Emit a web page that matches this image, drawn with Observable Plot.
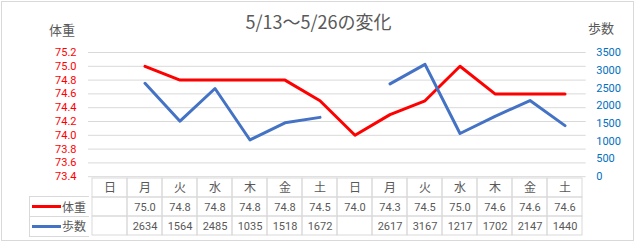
<!DOCTYPE html>
<html><head><meta charset="utf-8">
<script src="https://cdn.jsdelivr.net/npm/d3@7"></script>
<script src="https://cdn.jsdelivr.net/npm/@observablehq/plot@0.6"></script>
<style>
body{margin:0;background:#fff;font-family:"Noto Sans CJK JP","Noto Sans",sans-serif;}
#wrap{position:relative;width:637px;height:245px;overflow:hidden;background:#fff;}
#frame{position:absolute;left:1px;top:1px;width:633px;height:240px;border:1px solid #d9d9d9;box-sizing:border-box;}
.abs{position:absolute;white-space:nowrap;line-height:1;color:#595959;}
#chart,#table{position:absolute;left:0;}
#chart{top:0;}
#table{top:170px;}
.leg{position:absolute;left:29px;width:60px;height:20px;box-sizing:border-box;border:1px solid #d9d9d9;border-right:none;display:flex;align-items:center;}
.sw{width:29px;height:3px;margin-left:2px;}
.lt{font-size:12px;color:#595959;margin-left:1px;line-height:1;}
</style></head><body>
<div id="wrap"><div id="frame"></div></div>
<script>
const title = "5/13～5/26の変化";
const days = ["日","月","火","水","木","金","土","日","月","火","水","木","金","土"];
const weight = [null,75.0,74.8,74.8,74.8,74.8,74.5,74.0,74.3,74.5,75.0,74.6,74.6,74.6];
const steps = [null,2634,1564,2485,1035,1518,1672,null,2617,3167,1217,1702,2147,1440];
const seriesNames = ["体重","歩数"];
const seriesColors = ["#FF0000","#4472C4"];
const weightTicks = [73.4,73.6,73.8,74.0,74.2,74.4,74.6,74.8,75.0,75.2];
const stepTicks = [0,500,1000,1500,2000,2500,3000,3500];

const W_MIN = 73.4, W_MAX = 75.2, S_MAX = 3500;
const toW = s => W_MIN + s / S_MAX * (W_MAX - W_MIN);
const fromW = w => (w - W_MIN) / (W_MAX - W_MIN) * S_MAX;

const rows = days.map((d, i) => ({i, day: d, w: weight[i], s: steps[i]}));
const font = '"Noto Sans CJK JP","Noto Sans",sans-serif';
const numFont = 'Roboto,"Liberation Sans",sans-serif';
const ML = 88, MR = 51.3;
const xScale = () => ({type: "band", domain: d3.range(days.length), padding: 0, axis: null});

const chart = Plot.plot({
  width: 637, height: 180,
  marginTop: 52, marginBottom: 3.8, marginLeft: ML, marginRight: MR,
  style: {fontFamily: font, background: "transparent", overflow: "visible"},
  x: xScale(),
  y: {domain: [W_MIN, W_MAX]},
  marks: [
    Plot.ruleY(weightTicks, {stroke: "#d9d9d9", strokeWidth: 1}),
    Plot.axisY(weightTicks, {anchor: "left", tickSize: 0, tickPadding: 12, tickFormat: d => d.toFixed(1), color: "#FF0000", fontSize: 11, fontFamily: numFont, label: null}),
    Plot.axisY(stepTicks.map(toW), {anchor: "right", tickSize: 0, tickPadding: 10, tickFormat: w => String(Math.round(fromW(w))), color: "#0070C0", fontSize: 11, fontFamily: numFont, label: null}),
    Plot.line(rows, {x: "i", y: d => d.w == null ? NaN : d.w, stroke: seriesColors[0], strokeWidth: 3, strokeLinejoin: "round"}),
    Plot.line(rows, {x: "i", y: d => d.s == null ? NaN : toW(d.s), stroke: seriesColors[1], strokeWidth: 3, strokeLinejoin: "round"})
  ]
});
chart.id = "chart";

const rowKeys = ["day","w","s"];
const cells = [];
rows.forEach(r => {
  cells.push({i: r.i, row: "day", label: r.day});
  cells.push({i: r.i, row: "w", label: r.w == null ? "" : r.w.toFixed(1)});
  cells.push({i: r.i, row: "s", label: r.s == null ? "" : String(r.s)});
});
const table = Plot.plot({
  width: 637, height: 75,
  marginTop: 7, marginBottom: 9, marginLeft: ML, marginRight: MR,
  style: {fontFamily: font, background: "transparent", overflow: "visible"},
  x: xScale(),
  y: {type: "band", domain: rowKeys, padding: 0, axis: null},
  marks: [
    Plot.cell(cells, {x: "i", y: "row", fill: "none", stroke: "#d9d9d9", inset: 0}),
    Plot.text(cells.filter(c => c.row === "day"), {x: "i", y: "row", text: "label", fill: "#595959", fontSize: 12}),
    Plot.text(cells.filter(c => c.row !== "day"), {x: "i", y: "row", text: "label", fill: "#595959", fontSize: 11, fontFamily: numFont})
  ]
});
table.id = "table";

const wrap = document.getElementById("wrap");
wrap.appendChild(chart);
wrap.appendChild(table);

function addText(txt, css) {
  const el = document.createElement("div");
  el.className = "abs";
  el.textContent = txt;
  Object.assign(el.style, css);
  wrap.appendChild(el);
  return el;
}
addText(title, {left: "0px", width: "637px", textAlign: "center", top: "12px", fontSize: "18px"});
addText(seriesNames[0], {left: "49px", top: "23px", fontSize: "13px"});
addText(seriesNames[1], {left: "588px", top: "21px", fontSize: "13px"});

const legTops = [196, 216];
seriesNames.forEach((name, k) => {
  const c = document.createElement("div");
  c.className = "leg";
  c.style.top = legTops[k] + "px";
  c.style.height = "21px";
  if (k === 1) c.style.borderTop = "none";
  const sw = document.createElement("div");
  sw.className = "sw";
  sw.style.background = seriesColors[k];
  const t = document.createElement("span");
  t.className = "lt";
  t.textContent = name;
  c.appendChild(sw); c.appendChild(t);
  wrap.appendChild(c);
});
</script></body></html>
